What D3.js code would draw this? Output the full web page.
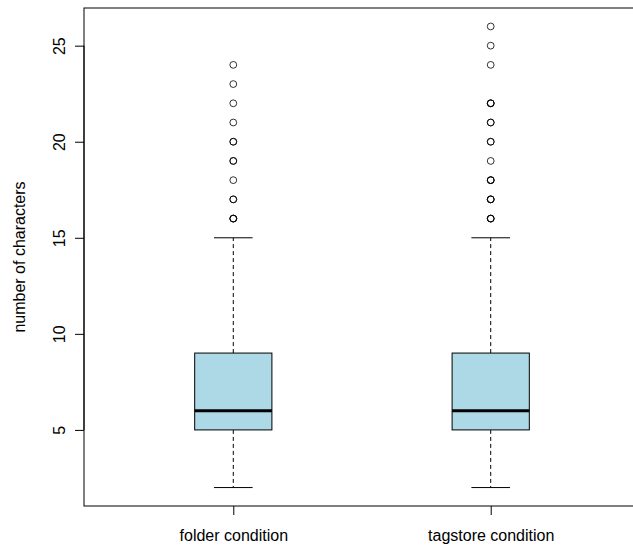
<!DOCTYPE html>
<html>
<head>
<meta charset="utf-8">
<script src="https://cdn.jsdelivr.net/npm/d3@7"></script>
<style>
  html, body { margin: 0; padding: 0; background: #fff; }
  svg { display: block; font-family: "Liberation Sans", Arial, Helvetica, sans-serif; }
</style>
</head>
<body>
<svg id="chart" width="633" height="548"></svg>
<script>
// ---- data ----
const categories = ["folder condition", "tagstore condition"];
const whiskerLow = [2, 2];
const q1 = [5, 5];
const median = [6, 6];
const q3 = [9, 9];
const whiskerHigh = [15, 15];
const folderOutliers = [24, 23, 22, 21, 20, 20, 19, 19, 18, 17, 17, 16, 16, 16];
const tagstoreOutliers = [26, 25, 24, 22, 22, 22, 21, 21, 20, 20, 19, 18, 18, 18, 17, 17, 17, 16, 16, 16];
const yTicks = [5, 10, 15, 20, 25];
const yLabel = "number of characters";

const outliers = [folderOutliers, tagstoreOutliers];

// ---- layout ----
const svg = d3.select("#chart");
const mLeft = 84, mRight = 640, mTop = 8, mBottom = 506;
const fontSize = 16;

const x = d3.scaleLinear().domain([0.42, 2.58]).range([mLeft, mRight]);
const y = d3.scaleLinear().domain([1.04, 26.96]).range([mBottom, mTop]);

const boxHalf = (x(1.15) - x(1));
const capHalf = boxHalf / 2;

const g = svg.append("g");

categories.forEach((c, i) => {
  const cx = x(i + 1);
  // whiskers (dashed)
  g.append("line")
    .attr("x1", cx).attr("x2", cx)
    .attr("y1", y(q3[i])).attr("y2", y(whiskerHigh[i]))
    .attr("stroke", "#000").attr("stroke-width", 1).attr("stroke-dasharray", "4,3");
  g.append("line")
    .attr("x1", cx).attr("x2", cx)
    .attr("y1", y(q1[i])).attr("y2", y(whiskerLow[i]))
    .attr("stroke", "#000").attr("stroke-width", 1).attr("stroke-dasharray", "4,3");
  // caps
  [whiskerHigh[i], whiskerLow[i]].forEach(v => {
    g.append("line")
      .attr("x1", cx - capHalf).attr("x2", cx + capHalf)
      .attr("y1", y(v)).attr("y2", y(v))
      .attr("stroke", "#000").attr("stroke-width", 1);
  });
  // box
  g.append("rect")
    .attr("x", cx - boxHalf).attr("width", 2 * boxHalf)
    .attr("y", y(q3[i])).attr("height", y(q1[i]) - y(q3[i]))
    .attr("fill", "#ADD8E6").attr("stroke", "#000").attr("stroke-width", 1);
  // median
  g.append("line")
    .attr("x1", cx - boxHalf).attr("x2", cx + boxHalf)
    .attr("y1", y(median[i])).attr("y2", y(median[i]))
    .attr("stroke", "#000").attr("stroke-width", 3);
  // outliers
  g.selectAll(null).data(outliers[i]).enter().append("circle")
    .attr("cx", cx).attr("cy", d => y(d)).attr("r", 3.4)
    .attr("fill", "none").attr("stroke", "#000").attr("stroke-width", 0.8);
});

// frame
svg.append("rect")
  .attr("x", mLeft).attr("y", mTop)
  .attr("width", mRight - mLeft).attr("height", mBottom - mTop)
  .attr("fill", "none").attr("stroke", "#000").attr("stroke-width", 1);

// y axis
const yAxis = d3.axisLeft(y).tickValues(yTicks).tickSize(9).tickPadding(0).tickFormat(d3.format("d"));
const ya = svg.append("g").attr("transform", `translate(${mLeft},0)`).call(yAxis);
ya.select(".domain").attr("d", `M0,${y(yTicks[0])}V${y(yTicks[yTicks.length - 1])}`).attr("stroke", "#000");
ya.selectAll(".tick line").attr("stroke", "#000");
ya.selectAll(".tick text")
  .attr("x", null).attr("dy", null)
  .attr("transform", "translate(-19,0) rotate(-90)")
  .attr("text-anchor", "middle")
  .attr("font-size", fontSize)
  .attr("font-family", "Liberation Sans, Arial, sans-serif")
  .attr("fill", "#000");

// x axis
const xAxis = d3.axisBottom(x).tickValues([1, 2]).tickSize(9).tickFormat((d) => categories[d - 1]);
const xa = svg.append("g").attr("transform", `translate(0,${mBottom})`).call(xAxis);
xa.select(".domain").remove();
xa.selectAll(".tick line").attr("stroke", "#000");
xa.selectAll(".tick text")
  .attr("y", 35).attr("dy", null)
  .attr("font-size", fontSize)
  .attr("font-family", "Liberation Sans, Arial, sans-serif")
  .attr("fill", "#000");

// y label
svg.append("text")
  .attr("transform", `translate(25,${(mTop + mBottom) / 2}) rotate(-90)`)
  .attr("text-anchor", "middle")
  .attr("font-size", fontSize)
  .text(yLabel);
</script>
</body>
</html>
